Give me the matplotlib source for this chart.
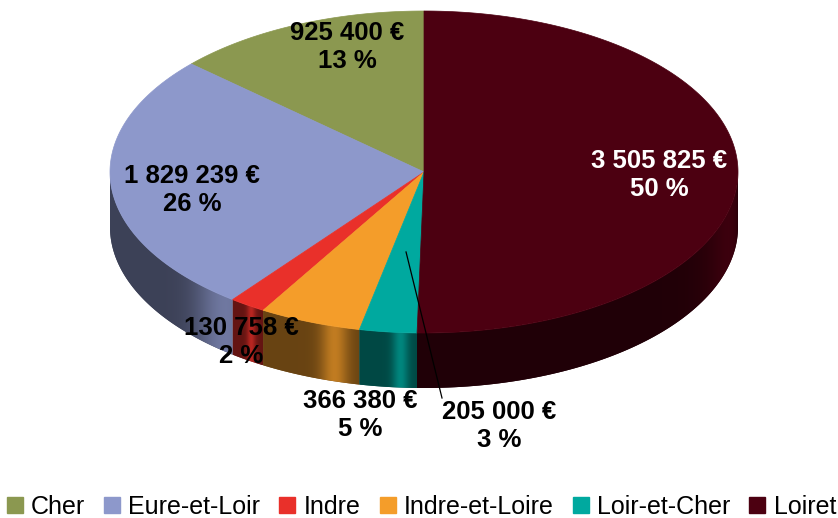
import numpy as np
import matplotlib
matplotlib.use('Agg')
import matplotlib.pyplot as plt
from matplotlib.colors import to_rgb
from matplotlib.lines import Line2D
from matplotlib.patches import Polygon

# data
departements = ['Cher', 'Eure-et-Loir', 'Indre', 'Indre-et-Loire', 'Loir-et-Cher', 'Loiret']
montants = [925400, 1829239, 130758, 366380, 205000, 3505825]
couleurs = ['#8b9850', '#8d98cb', '#e9302a', '#f49d2a', '#00a99f', '#4c0011']

#Set text font
plt.rcParams['font.family'] = ['Liberation Sans', 'DejaVu Sans']

# layout of the 3D pie, in pixels
cx, cy = 424, 172
a, b = 314, 161
depth = 55

# label anchors (pixels) and text colours
label_xy = [(347, 47), (192, 190), (241, 342), (360, 415), (499, 426), (659, 175)]
label_col = ['black', 'black', 'black', 'black', 'black', 'white']

# where the light hits each side wall (fraction along the wall)
highlight = [0.8, 0.97, 0.6, 0.75, 0.72, 0.85]


def ell(t_deg, r=1.0, dz=0.0):
    t = np.radians(t_deg)
    return cx + a * r * np.cos(t), cy - b * r * np.sin(t) + dz


def shade(u, peak):
    return 0.43 + 0.36 * np.exp(-((u - peak) / 0.14) ** 2)


def fmt_euro(v):
    return '{:,}'.format(v).replace(',', ' ') + ' €'


fig = plt.figure(figsize=(8.38, 5.18), dpi=100)
ax = fig.add_axes([0, 0, 1, 1])
ax.axis('off')

total = sum(montants)
fracs = [m / total for m in montants]
bounds = 90 + 360 * np.concatenate([[0], np.cumsum(fracs)])

#Side walls (front half only), shaded with a clipped gradient
for i in range(len(montants)):
    t1, t2 = bounds[i], bounds[i + 1]
    lo, hi = max(t1, 180), min(t2, 360)
    if hi <= lo:
        continue
    base = np.array(to_rgb(couleurs[i]))
    s = np.linspace(lo, hi, 80)
    xt, yt = ell(s)
    xb, yb = ell(s[::-1], dz=depth)
    px = np.concatenate([xt, xb])
    py = np.concatenate([yt, yb])
    poly = Polygon(np.column_stack([px, py]), closed=True, facecolor=base * 0.45,
                   edgecolor='none', zorder=1)
    ax.add_patch(poly)
    x0, x1 = px.min(), px.max()
    xs = np.linspace(x0, x1, 300)
    tt = 360 - np.degrees(np.arccos(np.clip((xs - cx) / a, -1, 1)))
    u = np.clip((tt - lo) / (hi - lo), 0, 1)
    img = np.clip(base[None, :] * shade(u, highlight[i])[:, None], 0, 1)[None, :, :]
    im = ax.imshow(img, extent=[x0, x1, py.max(), py.min()], aspect='auto',
                   interpolation='bilinear', zorder=1.5)
    im.set_clip_path(poly)

#Top faces
for i in range(len(montants)):
    t1, t2 = bounds[i], bounds[i + 1]
    s = np.linspace(t1, t2, max(10, int((t2 - t1) * 2)))
    xs, ys = ell(s)
    ax.fill(np.concatenate([[cx], xs]), np.concatenate([[cy], ys]),
            color=couleurs[i], lw=0.5, zorder=2)

#Labels
for i in range(len(montants)):
    txt = fmt_euro(montants[i]) + '\n' + '{:.0f} %'.format(fracs[i] * 100)
    ax.text(label_xy[i][0], label_xy[i][1], txt, ha='center', va='center',
            fontsize=18.5, fontweight='bold', color=label_col[i],
            linespacing=1.22, zorder=5)

#Leader line for Loir-et-Cher
mid = 0.5 * (bounds[4] + bounds[5])
lx, ly = ell(mid, 0.5)
ax.plot([lx, label_xy[4][0] - 57], [ly, label_xy[4][1] - 28], color='black', lw=0.9, zorder=4)

ax.set_xlim(0, 838)
ax.set_ylim(518, 0)

#Legend
handles = [Line2D([], [], ls='none', marker='s', markersize=11, markerfacecolor=c,
                  markeredgecolor=c) for c in couleurs]
fig.legend(handles, departements, loc='center', bbox_to_anchor=(0.503, 11.5 / 518),
           ncol=6, frameon=False, fontsize=18, handlelength=0.6, handletextpad=0.35,
           columnspacing=0.78, borderpad=0.0, borderaxespad=0.0)

plt.savefig('out.png', dpi=100)
